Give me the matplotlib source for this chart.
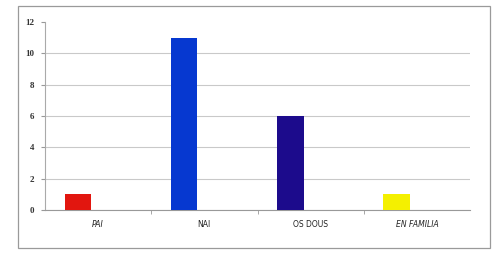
import matplotlib
matplotlib.use("Agg")
import matplotlib.pyplot as plt
from matplotlib.patches import Rectangle

# datos do gráfico
categorias = ["PAI", "NAI", "OS DOUS", "EN FAMILIA"]
valores = [1, 11, 6, 1]
cores = ["#e2160f", "#0638d0", "#1c0b8c", "#f4f000"]
etiqueta_italica = [True, False, False, True]
ticks_y = [0, 2, 4, 6, 8, 10, 12]

fig = plt.figure(figsize=(5.01, 2.61), dpi=100)
fig.patch.set_facecolor("white")

# marco exterior do gráfico
fig.patches.append(Rectangle((18 / 501, 1 - 248 / 261), 472 / 501, 242 / 261,
                             transform=fig.transFigure, fill=False,
                             edgecolor="#9a9a9a", linewidth=0.9))

ax = fig.add_axes([45 / 501, 1 - 210 / 261, 425 / 501, 188 / 261])
x = range(len(categorias))
desprazamento = 0.19
ax.bar([i - desprazamento for i in x], valores, width=0.25, color=cores, zorder=3)

ax.set_xlim(-0.5, len(categorias) - 0.5)
ax.set_ylim(0, 12)
ax.set_yticks(ticks_y)
ax.set_yticklabels([str(t) for t in ticks_y], fontsize=6.5, fontweight="bold",
                   family="Liberation Serif", color="#333333")
ax.grid(axis="y", color="#c9c9c9", linewidth=0.8, zorder=0)
ax.get_ygridlines()[-1].set_visible(False)

ax.set_xticks([i + 0.5 for i in x][:-1], minor=True)
ax.set_xticks(list(x))
ax.set_xticklabels([])
ax.tick_params(axis="x", which="major", length=0)
ax.tick_params(axis="x", which="minor", length=3, color="#999999", direction="out")
ax.tick_params(axis="y", length=3, color="#999999", pad=5)

for i, (cat, it) in enumerate(zip(categorias, etiqueta_italica)):
    ax.text(i, -0.95, cat, ha="center", va="center", fontsize=5.5,
            style="italic" if it else "normal", color="#222222",
            transform=ax.transData)

for s in ["top", "right"]:
    ax.spines[s].set_visible(False)
ax.spines["left"].set_color("#aaaaaa")
ax.spines["bottom"].set_color("#999999")
ax.spines["left"].set_linewidth(0.8)
ax.spines["bottom"].set_linewidth(0.8)

fig.savefig("out.png", dpi=100)
